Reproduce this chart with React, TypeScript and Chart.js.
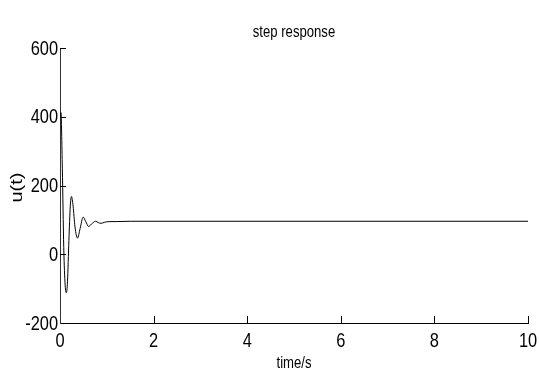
import React, { useEffect, useRef } from "react";
import { Chart, registerables } from "chart.js";

Chart.register(...registerables);

const timeValues = [0, 0.02, 0.05, 0.08, 0.11, 0.135, 0.16, 0.19, 0.22, 0.245, 0.28, 0.32, 0.375, 0.43, 0.495, 0.55, 0.61, 0.69, 0.76, 0.82, 0.88, 0.95, 1.05, 1.2, 1.5, 10];
const uValues = [400, 412, 250, 20, -90, -112, -80, 40, 140, 168, 140, 80, 47, 75, 108, 95, 81, 90, 96, 92, 90, 93, 95, 95, 96, 96];
const xTicks = [0, 2, 4, 6, 8, 10];
const yTicks = [-200, 0, 200, 400, 600];
const chartTitle = "step response";
const xLabel = "time/s";
const yLabel = "u(t)";

const FONT = "'Liberation Sans', Arial, Helvetica, sans-serif";
const SQUEEZE = 0.82;

function squeezedText(ctx: any, text: string, x: number, y: number, align: string, baseline: string) {
  ctx.save();
  ctx.translate(x, y);
  ctx.scale(SQUEEZE, 1);
  ctx.textAlign = align;
  ctx.textBaseline = baseline;
  ctx.fillText(text, 0, 0);
  ctx.restore();
}

const decorPlugin = {
  id: "decor",
  afterDraw(chart: any) {
    const { ctx, chartArea, scales } = chart;
    const x = scales.x;
    const y = scales.y;
    ctx.save();
    ctx.strokeStyle = "#000";
    ctx.lineWidth = 1;
    ctx.beginPath();
    for (const v of xTicks) {
      if (v === xTicks[0]) continue;
      const px = Math.round(x.getPixelForValue(v)) + 0.5;
      ctx.moveTo(px, chartArea.bottom);
      ctx.lineTo(px, chartArea.bottom - 7);
    }
    for (const v of yTicks) {
      if (v === yTicks[0]) continue;
      const py = Math.round(y.getPixelForValue(v)) + 0.5;
      ctx.moveTo(chartArea.left, py);
      ctx.lineTo(chartArea.left + 6, py);
    }
    ctx.stroke();
    ctx.fillStyle = "#000";

    ctx.font = `20px ${FONT}`;
    for (const v of xTicks) {
      squeezedText(ctx, String(v), x.getPixelForValue(v), chartArea.bottom + 24, "center", "alphabetic");
    }
    for (const v of yTicks) {
      squeezedText(ctx, String(v), chartArea.left - 2, y.getPixelForValue(v) + 1, "right", "middle");
    }

    ctx.font = `16px ${FONT}`;
    squeezedText(ctx, chartTitle, (chartArea.left + chartArea.right) / 2, 37, "center", "alphabetic");
    squeezedText(ctx, xLabel, (chartArea.left + chartArea.right) / 2, 368, "center", "alphabetic");

    ctx.font = `20px ${FONT}`;
    ctx.save();
    ctx.translate(17, (chartArea.top + chartArea.bottom) / 2 + 2);
    ctx.scale(SQUEEZE, 1);
    ctx.rotate(-Math.PI / 2);
    ctx.textAlign = "center";
    ctx.textBaseline = "middle";
    ctx.fillText(yLabel, 0, 0);
    ctx.restore();

    ctx.restore();
  },
};

export default function App() {
  const ref = useRef<HTMLCanvasElement | null>(null);
  useEffect(() => {
    if (!ref.current) return;
    const data = timeValues.map((t, i) => ({ x: t, y: uValues[i] }));
    const chart = new Chart(ref.current, {
      type: "line",
      data: {
        datasets: [
          {
            data,
            borderColor: "#000",
            borderWidth: 1,
            pointRadius: 0,
            fill: false,
            cubicInterpolationMode: "monotone",
          },
        ],
      },
      options: {
        animation: false,
        responsive: false,
        layout: { padding: { left: 0, right: 11, top: 48, bottom: 0 } },
        plugins: { legend: { display: false }, title: { display: false }, tooltip: { enabled: false } },
        scales: {
          x: {
            type: "linear",
            min: 0,
            max: 10,
            afterFit: (s: any) => {
              s.height = 47;
            },
            afterBuildTicks: (s: any) => {
              s.ticks = xTicks.map((v) => ({ value: v }));
            },
            grid: { display: false, drawTicks: false },
            border: { display: true, color: "#000", width: 1 },
            ticks: { display: false },
            title: { display: false, text: xLabel },
          },
          y: {
            type: "linear",
            min: -200,
            max: 600,
            afterFit: (s: any) => {
              s.width = 60;
            },
            afterBuildTicks: (s: any) => {
              s.ticks = yTicks.map((v) => ({ value: v }));
            },
            grid: { display: false, drawTicks: false },
            border: { display: true, color: "#333", width: 1 },
            ticks: { display: false },
            title: { display: false, text: yLabel },
          },
        },
      },
      plugins: [decorPlugin],
    });
    return () => chart.destroy();
  }, []);
  return (
    <div style={{ position: "absolute", left: 0, top: 0, width: 539, height: 370, background: "#fff" }}>
      <canvas ref={ref} width={539} height={370} style={{ display: "block" }} />
    </div>
  );
}
